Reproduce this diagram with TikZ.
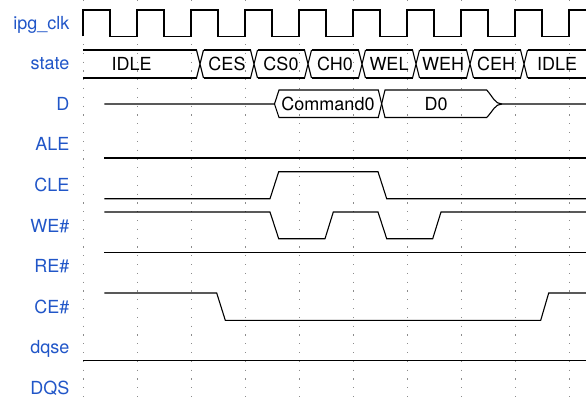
\documentclass[tikz,border=0pt]{standalone}
\usepackage{fontspec}
\setmainfont{TeX Gyre Heros}
\usetikzlibrary{positioning}
\definecolor{sig}{HTML}{2156C8}
\definecolor{grid}{HTML}{8C8C8C}
\begin{document}
\begin{tikzpicture}[x=1pt,y=-1pt,
  wave/.style={black,line width=1.1pt,line join=miter},
  gridline/.style={grid,line width=1pt,dash pattern=on 1.2pt off 7.6pt},
  lbl/.style={text=sig,font=\fontsize{18}{21}\selectfont,anchor=base east,inner sep=0pt},
  bustext/.style={font=\fontsize{18}{21}\selectfont,anchor=base,inner sep=0pt}]
\useasboundingbox (0,0) rectangle (586,400);
\clip (0,0) rectangle (586,400);
\foreach \k in {0,...,9}
  \draw[gridline] (83+54*\k,0) -- (83+54*\k,400);
\foreach \name [count=\i from 0] in {ipg\_clk,state,D,ALE,CLE,WE\#,RE\#,CE\#,dqse,DQS}
  \node[lbl] (lbl\i) at (69.5,29+40.6*\i) {\name};
\draw[wave] (83,36.3) \foreach \k in {0,...,9} { |- (110+54*\k,10) |- (137+54*\k,36.3) };
\foreach \a/\b/\c/\txt [count=\n] in {83/196.5/131.7/IDLE,203.5/250.5/227/CES,257.5/304.5/281/CS0,
    311.5/358.5/335/CH0,365.5/412.5/389/WEL,419.5/466.5/443/WEH,473.5/520.5/496/CEH,527.5/600/557/IDLE}{
  \draw[wave] (\a,50) -- (\b,50) (\a,78) -- (\b,78);
  \node[bustext] (st\n) at (\c,70.8) {\txt};
}
\foreach \t in {200,254,308,362,416,470,524}
  \draw[wave] (\t-3.5,50) -- (\t+3.5,78) (\t-3.5,78) -- (\t+3.5,50);
\draw[wave] (104.3,104) -- (274.5,104) -- (279,90) -- (378.3,90) -- (385,117.5) -- (486.7,117.5)
  .. controls (493,111) and (495,104) .. (502,104) -- (586,104);
\draw[wave] (274.5,104) -- (279,117.5) -- (378.3,117.5) -- (385,90) -- (486.7,90)
  .. controls (493,97) and (495,104) .. (502,104);
\node[bustext] (cmd) at (328,110.8) {Command0};
\node[bustext] (dzero) at (436,110.8) {D0};
\draw[wave] (104.3,158) -- (586,158);
\draw[wave] (104.3,198.7) -- (270,198.7) -- (278.7,171.7) -- (378,171.7) -- (386.7,198.7) -- (586,198.7);
\draw[wave] (104.3,212) -- (270,212) -- (278.7,238.7) -- (325,238.7) -- (333.3,212) -- (378,212)
  -- (386.7,238.7) -- (432.7,238.7) -- (441,212) -- (586,212);
\draw[wave] (104.3,252.7) -- (586,252.7);
\draw[wave] (104.3,293) -- (216.7,293) -- (225.3,320.3) -- (540.7,320.3) -- (548.7,293) -- (586,293);
\draw[wave] (83,360.5) -- (586,360.5);
\end{tikzpicture}
\end{document}
